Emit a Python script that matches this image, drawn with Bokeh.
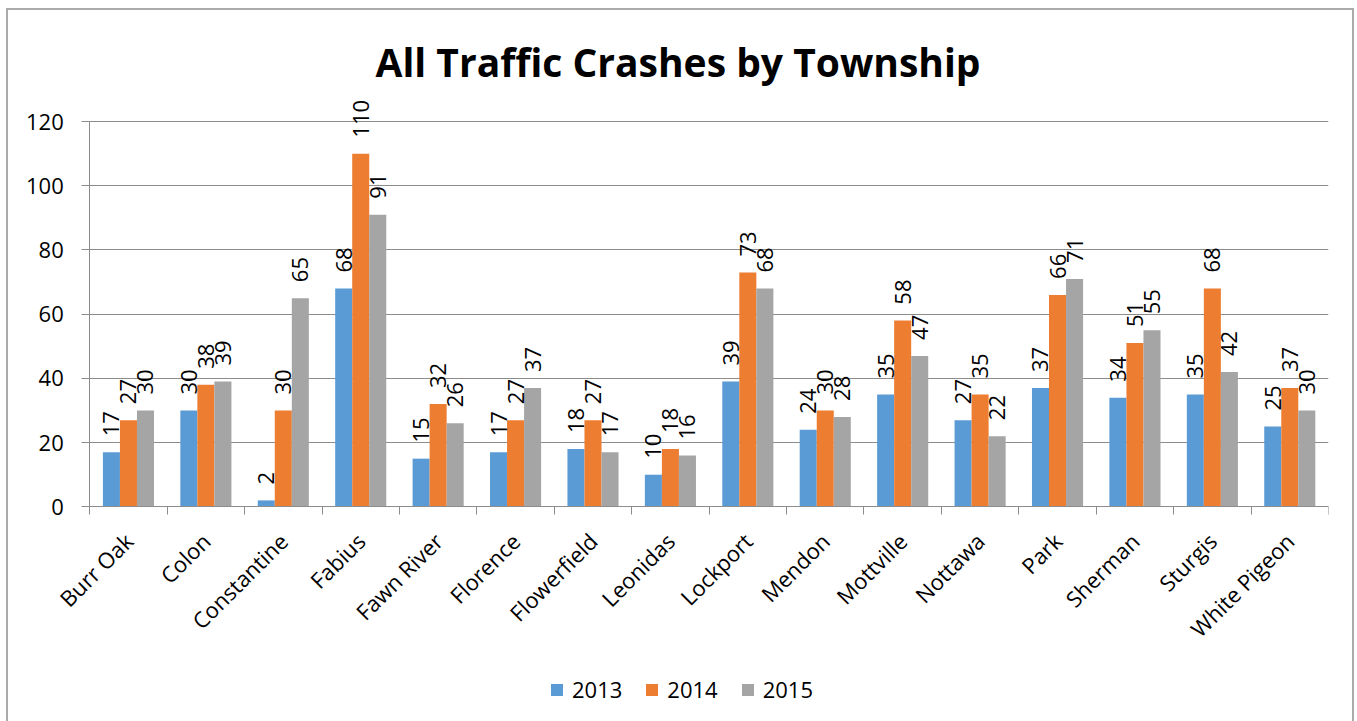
import numpy as np
from math import pi
from bokeh.plotting import figure
from bokeh.models import (ColumnDataSource, Range1d, FixedTicker, Legend,
                          LegendItem, LabelSet)
from bokeh.core.properties import value
from bokeh.embed import file_html
from bokeh.resources import INLINE

townships = ["Burr Oak", "Colon", "Constantine", "Fabius", "Fawn River",
             "Florence", "Flowerfield", "Leonidas", "Lockport", "Mendon",
             "Mottville", "Nottawa", "Park", "Sherman", "Sturgis",
             "White Pigeon"]
years = ["2013", "2014", "2015"]
crashes_2013 = [17, 30, 2, 68, 15, 17, 18, 10, 39, 24, 35, 27, 37, 34, 35, 25]
crashes_2014 = [27, 38, 30, 110, 32, 27, 27, 18, 73, 30, 58, 35, 66, 51, 68, 37]
crashes_2015 = [30, 39, 65, 91, 26, 37, 17, 16, 68, 28, 47, 22, 71, 55, 42, 30]
y_ticks = [0, 20, 40, 60, 80, 100, 120]
colors = ["#5B9BD5", "#ED7D31", "#A5A5A5"]

FONT = "Open Sans"
GRAY = "#8C8C8C"

n = len(townships)
idx = np.arange(n)
centers = idx + 0.5
boundaries = np.arange(n + 1)
bar_w = 0.22
offsets = [-bar_w, 0.0, bar_w]
# room left of the first category for the value axis labels,
# above 120 for data labels, and below 0 for category labels + legend
x_left = -81 / 77.1875
y_top = 128.75
y_bottom = -67.5

p = figure(width=1348, height=713, x_range=Range1d(x_left, n),
           y_range=Range1d(y_bottom, y_top), output_backend="svg",
           toolbar_location=None, min_border_left=0, min_border_right=28,
           min_border_top=83, min_border_bottom=0)
p.margin = (8, 0, 0, 6)
p.styles = {"border-top": "2px solid #ABABAB",
            "border-left": "2px solid #ABABAB",
            "border-right": "2px solid #ABABAB"}
p.outline_line_color = None
p.background_fill_color = "white"
p.border_fill_color = "white"

p.title.text = "All Traffic Crashes by Township"
p.title.text_font = FONT
p.title.text_font_style = "bold"
p.title.text_font_size = "39px"
p.title.align = "left"
p.title.offset = 367
p.title.standoff = 11
p.title.text_color = "black"

# grid
p.xgrid.grid_line_color = None
p.ygrid.grid_line_color = GRAY
p.ygrid.grid_line_width = 1
p.ygrid.ticker = FixedTicker(ticks=y_ticks)
p.ygrid.cross_bounds = (0, n)

# category axis
p.xaxis.fixed_location = 0
p.xaxis.bounds = (0, n)
p.xaxis.ticker = FixedTicker(ticks=list(centers), minor_ticks=list(boundaries))
p.xaxis.major_label_overrides = {float(c): t for c, t in zip(centers, townships)}
p.xaxis.major_tick_line_color = None
p.xaxis.minor_tick_line_color = GRAY
p.xaxis.minor_tick_out = 8
p.xaxis.minor_tick_in = 0
p.xaxis.axis_line_color = GRAY
p.xaxis.major_label_orientation = pi / 4
p.xaxis.major_label_text_font = FONT
p.xaxis.major_label_text_font_size = "22px"
p.xaxis.major_label_text_color = "black"
p.xaxis.major_label_standoff = 22

# value axis
p.yaxis.fixed_location = 0
p.yaxis.ticker = FixedTicker(ticks=y_ticks)
p.yaxis.bounds = (0, 120)
p.yaxis.minor_tick_line_color = None
p.yaxis.major_tick_line_color = GRAY
p.yaxis.major_tick_out = 8
p.yaxis.major_tick_in = 0
p.yaxis.axis_line_color = GRAY
p.yaxis.major_label_text_font = FONT
p.yaxis.major_label_text_font_size = "22px"
p.yaxis.major_label_text_color = "black"
p.yaxis.major_label_standoff = 18

series = [crashes_2013, crashes_2014, crashes_2015]
items = []
for yr, vals, off, col in zip(years, series, offsets, colors):
    src = ColumnDataSource(dict(x=centers + off, top=vals,
                                label=[str(v) for v in vals]))
    r = p.vbar(x="x", top="top", width=bar_w, bottom=0, source=src,
               fill_color=col, line_color=None)
    items.append(LegendItem(label=yr, renderers=[r]))
    labels = LabelSet(x="x", y="top", text="label", source=src,
                      angle=pi / 2, text_align="left",
                      text_baseline="middle", y_offset=16,
                      text_font=value(FONT), text_font_size=value("22px"),
                      text_color="black")
    p.add_layout(labels)

legend = Legend(items=items, orientation="horizontal", location=(541, 19))
legend.border_line_color = None
legend.background_fill_alpha = 0
legend.label_text_font = FONT
legend.label_text_font_size = "22px"
legend.label_text_color = "black"
legend.glyph_width = 15
legend.glyph_height = 15
legend.label_standoff = 8
legend.spacing = 22
legend.padding = 0
legend.margin = 0
p.add_layout(legend, "center")

open("out.html", "w").write(file_html(p, INLINE))
